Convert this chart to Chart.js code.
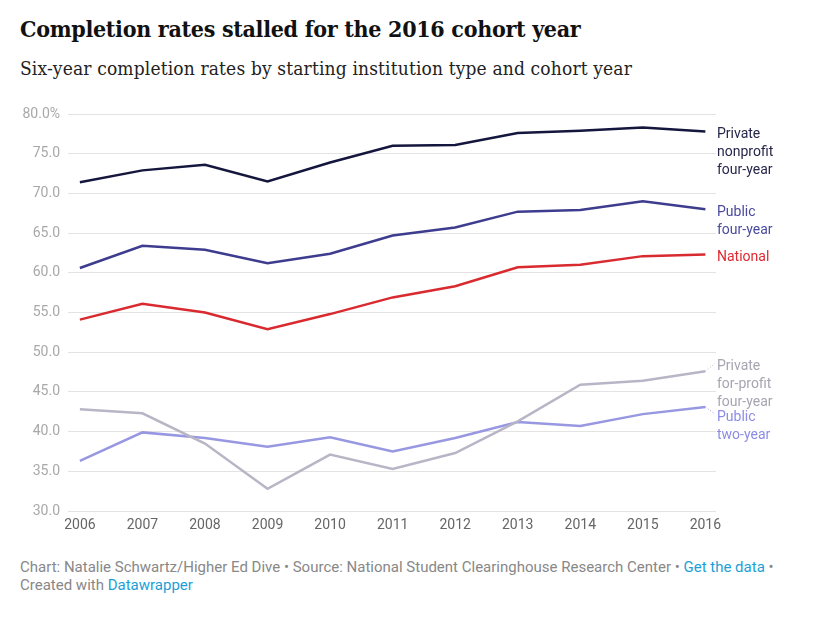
<!DOCTYPE html>
<html>
<head>
<meta charset="utf-8">
<script src="https://cdn.jsdelivr.net/npm/chart.js@4/dist/chart.umd.min.js"></script>
<style>
  html, body { margin: 0; padding: 0; background: #fff; }
  body { width: 838px; height: 620px; position: relative; overflow: hidden; }
  #title { position: absolute; left: 20px; top: 15px; font: bold 23px "DejaVu Serif Condensed", "DejaVu Serif", serif; font-stretch: condensed; color: #111; letter-spacing: -0.3px; white-space: nowrap; }
  #subtitle { position: absolute; left: 20px; top: 57px; font: 19px "DejaVu Serif Condensed", "DejaVu Serif", serif; font-stretch: condensed; color: #222; letter-spacing: 0.15px; white-space: nowrap; }
  #wrap { position: absolute; left: 0; top: 97px; width: 838px; height: 444px; }
  #footer { position: absolute; left: 20px; top: 558px; width: 810px; font: 15px Roboto, sans-serif; color: #888; line-height: 18px; }
  #footer a { color: #1d9fd6; text-decoration: none; }
</style>
</head>
<body>
<div id="title">Completion rates stalled for the 2016 cohort year</div>
<div id="subtitle">Six-year completion rates by starting institution type and cohort year</div>
<div id="wrap"><canvas id="line-chart-canvas"></canvas></div>
<div id="footer">Chart: Natalie Schwartz/Higher Ed Dive • Source: National Student Clearinghouse Research Center • <a>Get the data</a> •<br>Created with <a>Datawrapper</a></div>
<script>
const years = [2006, 2007, 2008, 2009, 2010, 2011, 2012, 2013, 2014, 2015, 2016];

const privateNonprofit = [71.4, 72.9, 73.6, 71.5, 73.9, 76.0, 76.1, 77.6, 77.9, 78.3, 77.8];
const publicFourYear = [60.6, 63.4, 62.9, 61.2, 62.4, 64.7, 65.7, 67.7, 67.9, 69.0, 68.0];
const national = [54.1, 56.1, 55.0, 52.9, 54.8, 56.9, 58.3, 60.7, 61.0, 62.1, 62.3];
const privateForProfit = [42.8, 42.3, 38.5, 32.8, 37.1, 35.3, 37.3, 41.3, 45.9, 46.4, 47.6];
const publicTwoYear = [36.3, 39.9, 39.2, 38.1, 39.3, 37.5, 39.2, 41.2, 40.7, 42.2, 43.1];

const yTicks = [30, 35, 40, 45, 50, 55, 60, 65, 70, 75, 80];

const series = [
    { name: ['Private', 'nonprofit', 'four-year'], values: privateNonprofit, color: '#15163d', text: '#26264a', dy: 3, dotted: false },
    { name: ['Public', 'four-year'], values: publicFourYear, color: '#3d3c8e', text: '#4a4a9c', dy: 3, dotted: false },
    { name: ['National'], values: national, color: '#d82a2f', text: '#e0282f', dy: 3, dotted: false },
    { name: ['Private', 'for-profit', 'four-year'], values: privateForProfit, color: '#b8b6c6', text: '#a6a5b2', dy: -5, dotted: true },
    { name: ['Public', 'two-year'], values: publicTwoYear, color: '#9797e2', text: '#8c8ce6', dy: 11, dotted: true }
];

// end-of-line labels, like datawrapper draws them
const lineLabels = {
    id: 'lineLabels',
    afterDatasetsDraw(chart) {
        const ctx = chart.ctx;
        const x = chart.scales.x;
        const y = chart.scales.y;
        const lastX = x.getPixelForValue(years[years.length - 1]);
        const textX = chart.chartArea.right + 1;
        ctx.save();
        ctx.font = '14px Roboto, sans-serif';
        ctx.textBaseline = 'middle';
        ctx.textAlign = 'left';
        series.forEach(s => {
            const endY = y.getPixelForValue(s.values[s.values.length - 1]);
            const top = endY + s.dy;
            if (s.dotted) {
                ctx.strokeStyle = s.color;
                ctx.lineWidth = 1;
                ctx.setLineDash([1, 2]);
                ctx.beginPath();
                ctx.moveTo(lastX, endY);
                ctx.lineTo(textX - 2, s.dy < 0 ? top - 3 : top - 4);
                ctx.stroke();
                ctx.setLineDash([]);
            }
            ctx.fillStyle = s.text;
            s.name.forEach((line, i) => ctx.fillText(line, textX, top + i * 18));
        });
        ctx.restore();
    }
};

const ctx = document.getElementById('line-chart-canvas').getContext('2d');

new Chart(ctx, {
    type: 'line',
    data: {
        datasets: series.map(s => ({
            label: s.name.join(' '),
            data: years.map((yr, i) => ({ x: yr, y: s.values[i] })),
            borderColor: s.color,
            borderWidth: 2.5,
            pointRadius: 0,
            tension: 0,
            fill: false
        }))
    },
    options: {
        responsive: true,
        maintainAspectRatio: false,
        animation: false,
        events: [],
        layout: { padding: { left: 0, right: 122, top: 17, bottom: 0 } },
        plugins: {
            legend: { display: false },
            tooltip: { enabled: false }
        },
        scales: {
            x: {
                type: 'linear',
                min: 2005.81,
                max: 2016.17,
                grid: { display: false, drawTicks: false },
                border: { display: false },
                afterBuildTicks: scale => { scale.ticks = years.map(v => ({ value: v })); },
                afterFit: scale => { scale.height = 30; },
                ticks: {
                    color: '#666',
                    font: { family: 'Roboto', size: 14 },
                    padding: 6,
                    maxRotation: 0,
                    autoSkip: false,
                    callback: v => String(v)
                }
            },
            y: {
                min: 30,
                max: 80,
                grid: { color: '#e3e3e3', lineWidth: 1, drawTicks: false },
                border: { display: false },
                afterBuildTicks: scale => { scale.ticks = yTicks.map(v => ({ value: v })); },
                afterFit: scale => { scale.width = 68; },
                ticks: {
                    color: '#a8a8a8',
                    font: { family: 'Roboto', size: 14 },
                    padding: 8,
                    callback: v => v === 80 ? '80.0%' : v.toFixed(1)
                }
            }
        }
    },
    plugins: [lineLabels]
});
</script>
</body>
</html>
